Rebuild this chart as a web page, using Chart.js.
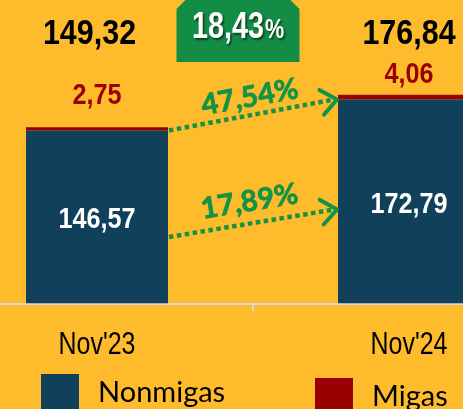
<!DOCTYPE html>
<html>
<head>
<meta charset="utf-8">
<script src="https://cdn.jsdelivr.net/npm/chart.js@4.4.1/dist/chart.umd.min.js"></script>
<style>
html,body{margin:0;padding:0;}
body{width:463px;height:409px;overflow:hidden;background:#FEBC2C;position:relative;}
#wrap{position:absolute;left:-59px;top:0;width:624px;height:409px;}
.lg{position:absolute;display:flex;align-items:flex-start;font-family:Lato,'Noto Sans',sans-serif;font-size:29px;color:#000;}
.lg span.box{display:inline-block;width:38px;height:38px;margin-right:19px;}
.lg span.txt{position:relative;top:-1px;}
</style>
</head>
<body>
<div id="wrap"><canvas id="c" width="624" height="409"></canvas></div>
<div id="legend"></div>
<script>
// values
const categories=['Nov\'23','Nov\'24'];
const nonmigas=[146.57,172.79];
const migas=[2.75,4.06];
const totals=[149.32,176.84];
const growthTotal=18.43;
const growthMigas=47.54;
const growthNonmigas=17.89;

const GREEN='#139346';
const fmt=v=>v.toFixed(2).replace('.',',');

// Arial Narrow look-alike: Liberation Sans squeezed horizontally
function narrow(ctx,txt,x,y,size,color,bold,sx,align){
  ctx.save();
  ctx.translate(x,y);ctx.scale(sx,1);
  ctx.font=(bold?'bold ':'')+size+"px 'Liberation Sans',Arial,sans-serif";
  ctx.fillStyle=color;ctx.textAlign=align||'center';ctx.textBaseline='alphabetic';
  ctx.fillText(txt,0,0);
  const w=ctx.measureText(txt).width*sx;
  ctx.restore();
  return w;
}

function arrow(ctx,x1,y1,x2,y2){
  ctx.save();
  ctx.strokeStyle=GREEN;ctx.lineWidth=4.5;ctx.setLineDash([4.5,3.5]);
  ctx.beginPath();ctx.moveTo(x1,y1);ctx.lineTo(x2-3,y2);ctx.stroke();
  ctx.setLineDash([]);ctx.lineWidth=4;ctx.lineCap='round';ctx.lineJoin='round';
  const a=Math.atan2(y2-y1,x2-x1),L=20,s=0.68;
  ctx.beginPath();
  ctx.moveTo(x2-L*Math.cos(a-s),y2-L*Math.sin(a-s));
  ctx.lineTo(x2,y2);
  ctx.lineTo(x2-L*Math.cos(a+s),y2-L*Math.sin(a+s));
  ctx.stroke();
  ctx.restore();
}
function arrowLabel(ctx,x1,y1,x2,y2,off,txt){
  const a=Math.atan2(y2-y1,x2-x1);
  const mx=(x1+x2)/2+Math.sin(a)*off, my=(y1+y2)/2-Math.cos(a)*off;
  ctx.save();ctx.translate(mx,my);ctx.rotate(a);
  ctx.fillStyle=GREEN;ctx.strokeStyle=GREEN;ctx.lineWidth=0.8;
  ctx.font="bold 29px Lato,sans-serif";
  ctx.textAlign='center';ctx.textBaseline='middle';
  ctx.fillText(txt,0,0);ctx.strokeText(txt,0,0);ctx.restore();
}

const labelsPlugin={
  id:'labelsPlugin',
  afterDraw(chart){
    const ctx=chart.ctx;
    const nm=chart.getDatasetMeta(0).data, mg=chart.getDatasetMeta(1).data;
    const {top,bottom}=chart.chartArea;
    const xs=chart.scales.x;
    const migasGap=[23,12];
    const totalShift=[-7.5,0];
    nm.forEach((b,i)=>{
      narrow(ctx,fmt(nonmigas[i]),b.x,(b.y+b.base)/2+11,30,'#fff',true,0.84);
      narrow(ctx,fmt(migas[i]),b.x,mg[i].y-migasGap[i],30,'#9B0000',true,0.84);
      narrow(ctx,fmt(totals[i]),b.x+totalShift[i],top+44,35,'#000',true,0.87);
    });
    // category labels under the axis
    xs.getLabels().forEach((l,i)=>{
      narrow(ctx,l,xs.getPixelForTick(i),bottom+50,32,'#000',false,0.78);
    });
    // arrows between the bars
    const w=nm[0].width;
    const xa=nm[0].x+w/2+1, xb=nm[1].x-w/2-1;
    arrow(ctx,xa,nm[0].y,xb,nm[1].y);
    arrowLabel(ctx,xa,nm[0].y,xb,nm[1].y,18,fmt(growthMigas)+'%');
    const c0=(nm[0].y+nm[0].base)/2+20, c1=(nm[1].y+nm[1].base)/2+8;
    arrow(ctx,xa,c0,xb,c1);
    arrowLabel(ctx,xa,c0,xb,c1,22,fmt(growthNonmigas)+'%');
    // green badge with total growth
    const cx=(nm[0].x+nm[1].x)/2-15, bw=123, bh=62, ch=9, by=top;
    ctx.save();
    ctx.fillStyle='#138D45';
    ctx.beginPath();
    ctx.moveTo(cx-bw/2,by+ch);ctx.lineTo(cx-bw/2+ch,by);ctx.lineTo(cx+bw/2-ch,by);
    ctx.lineTo(cx+bw/2,by+ch);ctx.lineTo(cx+bw/2,by+bh);ctx.lineTo(cx-bw/2,by+bh);
    ctx.closePath();ctx.fill();
    ctx.shadowColor='rgba(0,0,0,0.55)';ctx.shadowOffsetX=1.5;ctx.shadowOffsetY=1.5;ctx.shadowBlur=2;
    const sx=cx-46;
    const w1=narrow(ctx,fmt(growthTotal),sx,by+38,36,'#fff',true,0.8,'left');
    narrow(ctx,'%',sx+w1+1,by+38,27,'#fff',true,0.8,'left');
    ctx.restore();
  }
};

const chart=new Chart(document.getElementById('c'),{
  type:'bar',
  data:{
    labels:categories,
    datasets:[
      {label:'Nonmigas',data:nonmigas,backgroundColor:'#10405A'},
      {label:'Migas',data:migas,backgroundColor:'#990000'}
    ]
  },
  options:{
    responsive:false,animation:false,
    layout:{padding:{top:0,left:0,right:0,bottom:35}},
    datasets:{bar:{categoryPercentage:1,barPercentage:0.455}},
    plugins:{legend:{display:false},tooltip:{enabled:false}},
    scales:{
      x:{stacked:true,
        grid:{drawOnChartArea:false,drawTicks:true,tickLength:8,color:'#D9D9D9',lineWidth:2},
        border:{color:'#D9D9D9',width:2},
        ticks:{color:'transparent',padding:12,font:{size:32}}},
      y:{stacked:true,display:false,min:0,max:257}
    }
  },
  plugins:[labelsPlugin]
});

// legend from the chart's datasets
const legendPos=[[41,374],[315,378]];
document.getElementById('legend').innerHTML=chart.data.datasets.map((d,i)=>
  `<div class="lg" style="left:${legendPos[i][0]}px;top:${legendPos[i][1]}px"><span class="box" style="background:${d.backgroundColor}"></span><span class="txt">${d.label}</span></div>`).join('');
</script>
</body>
</html>
